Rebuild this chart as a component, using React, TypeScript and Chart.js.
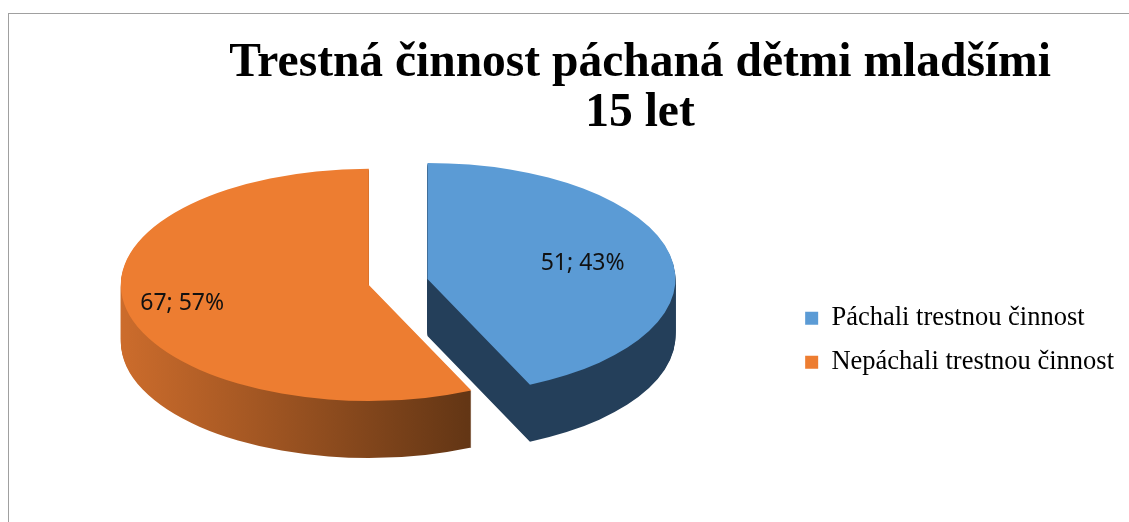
import React, { useEffect, useRef } from 'react';
import { Chart, registerables } from 'chart.js';

Chart.register(...registerables);

// ---- data ----
const categories = ['Páchali trestnou činnost', 'Nepáchali trestnou činnost'];
const counts = [51, 67];
const titleLines = ['Trestná činnost páchaná dětmi mladšími', '15 let'];

// ---- styles ----
const topColors = ['#5b9bd5', '#ed7d31'];
const sideColors = [
  ['#243f5a', '#243f5a'],
  ['#cc6c2c', '#5c3213'],
];
const explodeAmounts = [60, 0];
const labelRadii = [0.64, 0.77];

const pie3d = {
  id: 'pie3d',
  beforeDatasetDraw(chart: any, args: any, opts: any) {
    const ctx: CanvasRenderingContext2D = chart.ctx;
    const arcs = args.meta.data;
    const ds = chart.data.datasets[args.index];
    const k = opts.tilt;
    const depth = opts.depth;
    const explode = opts.explode || [];
    const total = ds.data.reduce((a: number, b: number) => a + b, 0);

    const place = (arc: any, i: number, dy: number) => {
      const a = (arc.startAngle + arc.endAngle) / 2;
      const e = explode[i] || 0;
      ctx.translate(arc.x, arc.y + dy);
      ctx.scale(1, k);
      ctx.translate(-arc.x + Math.cos(a) * e, -arc.y + Math.sin(a) * e);
    };
    const sideFill = arcs.map((arc: any, i: number) => {
      const [c0, c1] = opts.sideColors[i];
      const g = ctx.createLinearGradient(arc.x - arc.outerRadius, 0, arc.x + arc.outerRadius * 0.5, 0);
      g.addColorStop(0, c0);
      g.addColorStop(1, c1);
      return g;
    });
    const drawArc = (arc: any, i: number, dy: number, fill?: any) => {
      ctx.save();
      place(arc, i, dy);
      if (fill) {
        const orig = arc.options;
        arc.options = Object.assign({}, orig, { backgroundColor: fill, borderWidth: 0 });
        arc.draw(ctx);
        arc.options = orig;
      } else {
        arc.draw(ctx);
      }
      ctx.restore();
    };
    for (let d = depth; d >= 1; d -= 1) {
      arcs.forEach((arc: any, i: number) => drawArc(arc, i, d, sideFill[i]));
    }
    arcs.forEach((arc: any, i: number) => drawArc(arc, i, 0));

    ctx.save();
    ctx.font = opts.labelFont;
    ctx.fillStyle = opts.labelColor;
    ctx.textAlign = 'center';
    ctx.textBaseline = 'middle';
    arcs.forEach((arc: any, i: number) => {
      const a = (arc.startAngle + arc.endAngle) / 2;
      const rr = arc.outerRadius * opts.labelRadius[i] + (explode[i] || 0);
      const x = arc.x + Math.cos(a) * rr;
      const y = arc.y + Math.sin(a) * rr * k;
      const v = ds.data[i];
      ctx.fillText(`${v}; ${Math.round((v / total) * 100)}%`, x, y);
    });
    ctx.restore();
    return false;
  },
};

export default function App() {
  const ref = useRef<HTMLCanvasElement | null>(null);
  useEffect(() => {
    if (!ref.current) return;
    const chart = new Chart(ref.current, {
      type: 'pie',
      data: {
        labels: categories,
        datasets: [
          {
            data: counts,
            backgroundColor: topColors,
            borderWidth: 0,
            radius: 248,
          } as any,
        ],
      },
      options: {
        responsive: false,
        animation: false,
        events: [],
        layout: { padding: { left: 147, right: 45, top: 0, bottom: 141 } },
        plugins: {
          title: {
            display: true,
            text: titleLines,
            color: '#000000',
            font: { family: "'Liberation Serif', 'Times New Roman', serif", size: 47.5, weight: 'bold', lineHeight: 1.05 },
            padding: { top: 25, bottom: 38 },
          },
          subtitle: {
            display: true,
            text: '',
            position: 'right',
            weight: 500,
            font: { size: 10, lineHeight: 1 },
            padding: { top: 196, bottom: 0 },
          } as any,
          legend: {
            position: 'right',
            align: 'end',
            maxWidth: 420,
            labels: {
              boxWidth: 13,
              boxHeight: 13,
              padding: 17.5,
              color: '#000000',
              font: { family: "'Liberation Serif', 'Times New Roman', serif", size: 26.5 },
            },
          },
          tooltip: { enabled: false },
          pie3d: {
            tilt: 0.468,
            depth: 57,
            explode: explodeAmounts,
            sideColors,
            labelRadius: labelRadii,
            labelFont: "23px 'Noto Sans', 'DejaVu Sans', sans-serif",
            labelColor: '#111111',
          },
        } as any,
      },
      plugins: [pie3d as any],
    });
    return () => chart.destroy();
  }, []);

  return (
    <div
      style={{
        position: 'fixed',
        left: 8,
        top: 13,
        width: 1160,
        height: 560,
        border: '1px solid #a0a0a0',
        background: '#ffffff',
      }}
    >
      <canvas ref={ref} width={1160} height={520} style={{ display: 'block' }} />
    </div>
  );
}
